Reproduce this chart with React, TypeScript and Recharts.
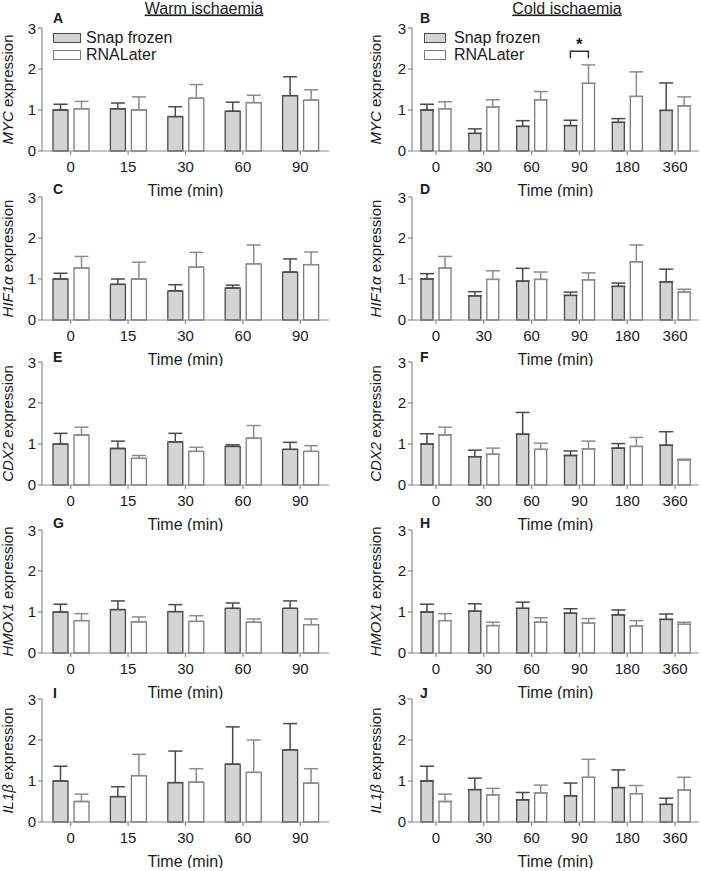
import { Bar, BarChart, ErrorBar, Label, Legend, ReferenceArea, XAxis, YAxis } from 'recharts'

const warmTimes = ['0', '15', '30', '60', '90']
const coldTimes = ['0', '30', '60', '90', '180', '360']
const yTicks = [0, 1, 2, 3]

// MYC
const mycWarmSnap = [1.0, 1.03, 0.84, 0.97, 1.35]
const mycWarmSnapErr = [0.14, 0.14, 0.24, 0.22, 0.46]
const mycWarmRna = [1.03, 1.0, 1.29, 1.18, 1.24]
const mycWarmRnaErr = [0.18, 0.32, 0.33, 0.18, 0.25]
const mycColdSnap = [1.0, 0.43, 0.6, 0.62, 0.7, 0.99]
const mycColdSnapErr = [0.14, 0.11, 0.14, 0.13, 0.09, 0.67]
const mycColdRna = [1.03, 1.07, 1.25, 1.65, 1.33, 1.1]
const mycColdRnaErr = [0.17, 0.18, 0.2, 0.45, 0.6, 0.22]

// HIF1a
const hifWarmSnap = [1.0, 0.87, 0.71, 0.78, 1.17]
const hifWarmSnapErr = [0.14, 0.13, 0.15, 0.07, 0.32]
const hifWarmRna = [1.27, 1.0, 1.29, 1.37, 1.35]
const hifWarmRnaErr = [0.28, 0.41, 0.36, 0.46, 0.31]
const hifColdSnap = [1.0, 0.59, 0.95, 0.6, 0.82, 0.93]
const hifColdSnapErr = [0.13, 0.1, 0.31, 0.08, 0.08, 0.31]
const hifColdRna = [1.27, 0.99, 0.99, 0.98, 1.42, 0.68]
const hifColdRnaErr = [0.28, 0.21, 0.18, 0.17, 0.41, 0.07]

// CDX2
const cdxWarmSnap = [1.0, 0.89, 1.05, 0.94, 0.87]
const cdxWarmSnapErr = [0.26, 0.18, 0.21, 0.04, 0.17]
const cdxWarmRna = [1.22, 0.65, 0.82, 1.14, 0.82]
const cdxWarmRnaErr = [0.19, 0.07, 0.1, 0.31, 0.14]
const cdxColdSnap = [1.0, 0.69, 1.24, 0.72, 0.9, 0.97]
const cdxColdSnapErr = [0.25, 0.16, 0.53, 0.11, 0.11, 0.33]
const cdxColdRna = [1.22, 0.75, 0.87, 0.88, 0.94, 0.61]
const cdxColdRnaErr = [0.19, 0.15, 0.15, 0.19, 0.22, 0.02]

// HMOX1
const hmoxWarmSnap = [1.0, 1.06, 1.01, 1.09, 1.09]
const hmoxWarmSnapErr = [0.19, 0.21, 0.17, 0.13, 0.18]
const hmoxWarmRna = [0.79, 0.76, 0.77, 0.75, 0.69]
const hmoxWarmRnaErr = [0.17, 0.12, 0.14, 0.08, 0.14]
const hmoxColdSnap = [1.0, 1.02, 1.09, 0.97, 0.93, 0.82]
const hmoxColdSnapErr = [0.19, 0.18, 0.15, 0.11, 0.12, 0.13]
const hmoxColdRna = [0.79, 0.67, 0.75, 0.73, 0.66, 0.7]
const hmoxColdRnaErr = [0.17, 0.08, 0.11, 0.11, 0.13, 0.05]

// IL1b
const ilWarmSnap = [1.0, 0.62, 0.96, 1.41, 1.76]
const ilWarmSnapErr = [0.36, 0.24, 0.77, 0.91, 0.64]
const ilWarmRna = [0.5, 1.13, 0.97, 1.21, 0.95]
const ilWarmRnaErr = [0.18, 0.52, 0.33, 0.79, 0.35]
const ilColdSnap = [1.0, 0.79, 0.54, 0.64, 0.84, 0.43]
const ilColdSnapErr = [0.36, 0.28, 0.18, 0.31, 0.43, 0.15]
const ilColdRna = [0.5, 0.66, 0.71, 1.09, 0.69, 0.78]
const ilColdRnaErr = [0.18, 0.16, 0.19, 0.44, 0.2, 0.31]

// significance bracket (panel B)
const mycColdSig = [{ time: '90', low: 2.26, high: 2.43, mark: '*' }]

const FONT = '"Liberation Sans", Arial, sans-serif'
const TEXT = '#1a1a1a'
const AXIS = '#8a8a8a'
const SNAP_FILL = '#d4d4d4'
const SNAP_STROKE = '#4a4a4a'
const RNA_FILL = '#ffffff'
const RNA_STROKE = '#7c7c7c'

type Row = { time: string; snap: number; snapErr: number[]; rna: number; rnaErr: number[] }

function buildRows(times: string[], snap: number[], snapErr: number[], rna: number[], rnaErr: number[]): Row[] {
  return times.map((time, i) => ({
    time,
    snap: snap[i],
    snapErr: [0, snapErr[i]],
    rna: rna[i],
    rnaErr: [0, rnaErr[i]],
  }))
}

type PanelDef = {
  letter: string
  gene: string
  cold: boolean
  row: number
  rows: Row[]
  legend?: boolean
  sig?: typeof mycColdSig
}

const panels: PanelDef[] = [
  { letter: 'A', gene: 'MYC', cold: false, row: 0, legend: true, rows: buildRows(warmTimes, mycWarmSnap, mycWarmSnapErr, mycWarmRna, mycWarmRnaErr) },
  { letter: 'B', gene: 'MYC', cold: true, row: 0, legend: true, sig: mycColdSig, rows: buildRows(coldTimes, mycColdSnap, mycColdSnapErr, mycColdRna, mycColdRnaErr) },
  { letter: 'C', gene: 'HIF1α', cold: false, row: 1, rows: buildRows(warmTimes, hifWarmSnap, hifWarmSnapErr, hifWarmRna, hifWarmRnaErr) },
  { letter: 'D', gene: 'HIF1α', cold: true, row: 1, rows: buildRows(coldTimes, hifColdSnap, hifColdSnapErr, hifColdRna, hifColdRnaErr) },
  { letter: 'E', gene: 'CDX2', cold: false, row: 2, rows: buildRows(warmTimes, cdxWarmSnap, cdxWarmSnapErr, cdxWarmRna, cdxWarmRnaErr) },
  { letter: 'F', gene: 'CDX2', cold: true, row: 2, rows: buildRows(coldTimes, cdxColdSnap, cdxColdSnapErr, cdxColdRna, cdxColdRnaErr) },
  { letter: 'G', gene: 'HMOX1', cold: false, row: 3, rows: buildRows(warmTimes, hmoxWarmSnap, hmoxWarmSnapErr, hmoxWarmRna, hmoxWarmRnaErr) },
  { letter: 'H', gene: 'HMOX1', cold: true, row: 3, rows: buildRows(coldTimes, hmoxColdSnap, hmoxColdSnapErr, hmoxColdRna, hmoxColdRnaErr) },
  { letter: 'I', gene: 'IL1β', cold: false, row: 4, rows: buildRows(warmTimes, ilWarmSnap, ilWarmSnapErr, ilWarmRna, ilWarmRnaErr) },
  { letter: 'J', gene: 'IL1β', cold: true, row: 4, rows: buildRows(coldTimes, ilColdSnap, ilColdSnapErr, ilColdRna, ilColdRnaErr) },
]

// layout
const plotTops = [28, 197, 362, 530, 699]
const letterBaselines = [22.5, 194, 361.5, 527.5, 697.5]
const PLOT_H = 123
const PLOT_W = 287
const TOP_PAD = 8
const XAXIS_H = 46

function YLabel(props: any) {
  const { viewBox, gene, shift } = props
  const x = viewBox.x + viewBox.width - shift
  const y = viewBox.y + viewBox.height / 2
  return (
    <text x={x} y={y} transform={`rotate(-90, ${x}, ${y})`} textAnchor="middle" fill={TEXT} stroke="none" fontSize={15} fontFamily={FONT}>
      <tspan fontStyle="italic">{gene}</tspan>
      <tspan> expression</tspan>
    </text>
  )
}

function SigBracket(props: any) {
  const { x, y, width, height, offset, mark } = props
  const cx = x + width / 2
  const x1 = cx - offset
  const x2 = cx + offset
  return (
    <g>
      <path d={`M${x1},${y + height} L${x1},${y} L${x2},${y} L${x2},${y + height}`} fill="none" stroke="#333" strokeWidth={1.5} />
      <text x={cx} y={y - 1} textAnchor="middle" fontSize={17} fontWeight="bold" fill={TEXT} fontFamily={FONT}>
        {mark}
      </text>
    </g>
  )
}

function makeLegend(boxWidth: number, gap: number) {
  return function LegendContent(props: any) {
    const items = [...(props.payload || [])].sort((a: any, b: any) => (a.dataKey === 'snap' ? -1 : b.dataKey === 'snap' ? 1 : 0))
    return (
      <div style={{ fontFamily: FONT }}>
        {items.map((entry: any) => {
          const snap = entry.dataKey === 'snap'
          return (
            <div key={entry.value} style={{ display: 'flex', alignItems: 'center', height: 17.5 }}>
              <span
                style={{
                  display: 'inline-block',
                  width: boxWidth,
                  height: 10,
                  boxSizing: 'border-box',
                  background: snap ? SNAP_FILL : RNA_FILL,
                  border: `1.3px solid ${snap ? SNAP_STROKE : RNA_STROKE}`,
                  marginRight: gap,
                }}
              />
              <span style={{ fontSize: 16, color: TEXT, lineHeight: '16px', whiteSpace: 'nowrap' }}>{entry.value}</span>
            </div>
          )
        })}
      </div>
    )
  }
}

function Panel({ def }: { def: PanelDef }) {
  const { cold, rows, gene, legend, sig, row } = def
  const yAxisW = cold ? 61 : 42
  const width = cold ? 351 : 335
  const barSize = cold ? 12 : 15
  const barGap = 6
  const chartTop = plotTops[row] - TOP_PAD
  return (
    <div style={{ position: 'absolute', left: cold ? 351 : 0, top: chartTop }}>
      <BarChart
        width={width}
        height={TOP_PAD + PLOT_H + XAXIS_H}
        data={rows}
        margin={{ top: TOP_PAD, right: width - yAxisW - PLOT_W, bottom: 0, left: 0 }}
        barGap={barGap}
        barSize={barSize}
      >
        <XAxis
          dataKey="time"
          height={XAXIS_H}
          tickSize={4}
          tickMargin={6}
          stroke={AXIS}
          strokeWidth={1.2}
          tick={{ fill: TEXT, fontSize: 15, fontFamily: FONT }}
        >
          <Label value="Time (min)" position="insideBottom" offset={1.5} fill={TEXT} stroke="none" fontSize={16} fontFamily={FONT} />
        </XAxis>
        <YAxis
          domain={[0, 3]}
          ticks={yTicks}
          width={yAxisW}
          tickSize={4}
          tickMargin={2}
          stroke={AXIS}
          strokeWidth={1.2}
          tick={{ fill: TEXT, fontSize: 15, fontFamily: FONT }}
        >
          <Label content={(p: any) => <YLabel {...p} gene={gene} shift={cold ? 31 : 29.5} />} />
        </YAxis>
        {legend && (
          <Legend
            layout="horizontal"
            verticalAlign="middle"
            align="center"
            content={makeLegend(cold ? 22 : 28, cold ? 8 : 5)}
            wrapperStyle={{ left: cold ? 73 : 53, top: 9, width: 'auto', height: 'auto' }}
          />
        )}
        <Bar dataKey="snap" name="Snap frozen" fill={SNAP_FILL} stroke={SNAP_STROKE} strokeWidth={1.3} isAnimationActive={false}>
          <ErrorBar dataKey="snapErr" width={7} stroke={SNAP_STROKE} strokeWidth={1.5} isAnimationActive={false} />
        </Bar>
        <Bar dataKey="rna" name="RNALater" fill={RNA_FILL} stroke={RNA_STROKE} strokeWidth={1.3} isAnimationActive={false}>
          <ErrorBar dataKey="rnaErr" width={7} stroke="#8c8c8c" strokeWidth={1.5} isAnimationActive={false} />
        </Bar>
        {sig &&
          sig.map((s) => (
            <ReferenceArea
              key={s.time}
              x1={s.time}
              x2={s.time}
              y1={s.low}
              y2={s.high}
              shape={(p: any) => <SigBracket {...p} offset={(barSize + barGap) / 2} mark={s.mark} />}
            />
          ))}
      </BarChart>
    </div>
  )
}

export default function App() {
  return (
    <div style={{ position: 'relative', width: 702, height: 871, background: '#fff', fontFamily: FONT }}>
      <style>{'body{margin:0}'}</style>
      {panels.map((p) => (
        <Panel key={p.letter} def={p} />
      ))}
      <svg width={702} height={871} style={{ position: 'absolute', left: 0, top: 0, pointerEvents: 'none' }}>
        <text x={204} y={13.5} textAnchor="middle" fontSize={16} fill={TEXT} fontFamily={FONT} textDecoration="underline">
          Warm ischaemia
        </text>
        <text x={567} y={13.5} textAnchor="middle" fontSize={16} fill={TEXT} fontFamily={FONT} textDecoration="underline">
          Cold ischaemia
        </text>
        {panels.map((p) => (
          <text key={p.letter} x={p.cold ? 420 : 53} y={letterBaselines[p.row]} fontSize={14} fontWeight="bold" fill={TEXT} fontFamily={FONT}>
            {p.letter}
          </text>
        ))}
      </svg>
    </div>
  )
}
